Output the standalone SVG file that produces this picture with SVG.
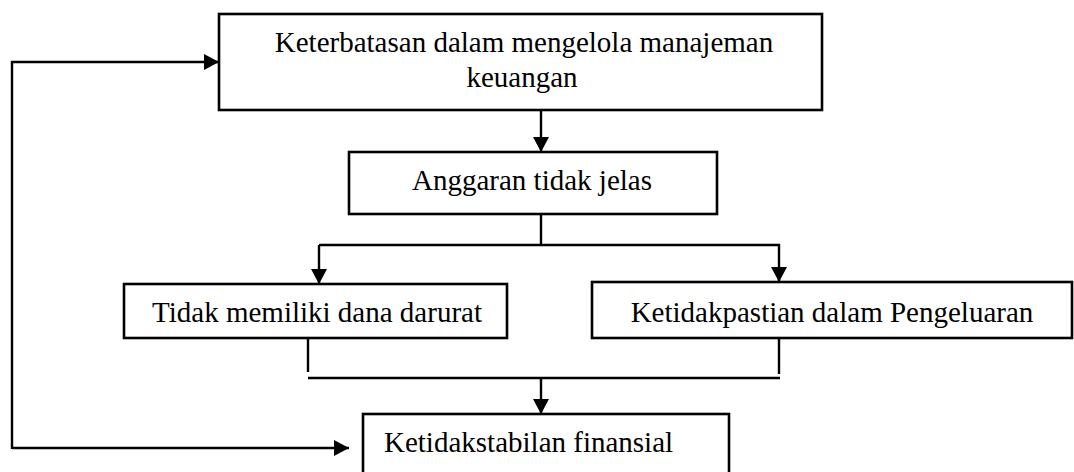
<svg xmlns="http://www.w3.org/2000/svg" width="1074" height="472" viewBox="0 0 1074 472">
  <style>
    .box { fill: #ffffff; stroke: #000000; stroke-width: 2.6; }
    .line { fill: none; stroke: #000000; stroke-width: 2.4; }
    .label { font-family: "Liberation Serif", "Times New Roman", serif; font-size: 29px; fill: #000000; }
  </style>
  <defs>
    <marker id="arrow" markerUnits="userSpaceOnUse" markerWidth="15" markerHeight="16" refX="15" refY="8" orient="auto">
      <path d="M0,0 L15,8 L0,16 Z" fill="#000000"/>
    </marker>
  </defs>

  <rect width="1074" height="472" fill="#ffffff"/>

  <g id="connectors">
    <!-- feedback loop from the outcome back to the root cause -->
    <path class="line" d="M12,448 H349" marker-end="url(#arrow)"/>
    <path class="line" d="M12,449 V62 H219" marker-end="url(#arrow)"/>
    <!-- root cause to budget -->
    <path class="line" d="M541,110 V152" marker-end="url(#arrow)"/>
    <!-- budget splits into two effects -->
    <path class="line" d="M541,214 V245"/>
    <path class="line" d="M319,245 V284" marker-end="url(#arrow)"/>
    <path class="line" d="M319,245 H779 V282" marker-end="url(#arrow)"/>
    <!-- both effects merge into the outcome -->
    <path class="line" d="M308,338 V372"/>
    <path class="line" d="M779,337 V374"/>
    <path class="line" d="M308,378 H780"/>
    <path class="line" d="M541,378 V414" marker-end="url(#arrow)"/>
  </g>

  <g id="node-keterbatasan">
    <rect class="box" x="219" y="14" width="603" height="96"/>
    <text class="label" x="524" y="52" text-anchor="middle">Keterbatasan dalam mengelola manajeman</text>
    <text class="label" x="522" y="87" text-anchor="middle">keuangan</text>
  </g>

  <g id="node-anggaran">
    <rect class="box" x="349" y="152" width="368" height="62"/>
    <text class="label" x="532" y="190" text-anchor="middle">Anggaran tidak jelas</text>
  </g>

  <g id="node-dana-darurat">
    <rect class="box" x="124" y="284" width="383" height="54"/>
    <text class="label" x="317" y="322" text-anchor="middle">Tidak memiliki dana darurat</text>
  </g>

  <g id="node-pengeluaran">
    <rect class="box" x="592" y="282" width="480" height="56"/>
    <text class="label" x="832" y="322" text-anchor="middle">Ketidakpastian dalam Pengeluaran</text>
  </g>

  <g id="node-finansial">
    <rect class="box" x="363" y="414" width="366" height="70"/>
    <text class="label" x="384" y="452">Ketidakstabilan finansial</text>
  </g>
</svg>
